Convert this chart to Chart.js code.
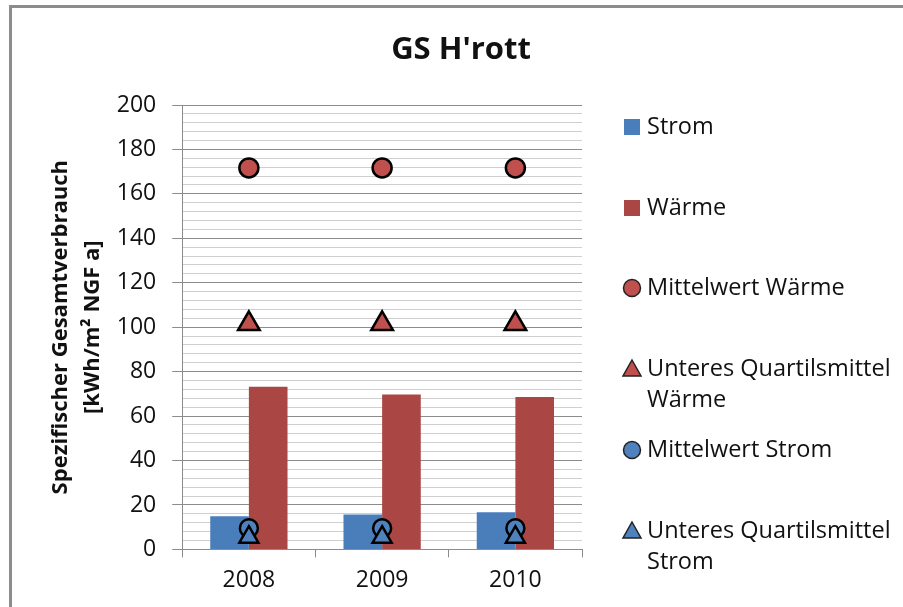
<!DOCTYPE html>
<html><head><meta charset="utf-8">
<script src="https://cdn.jsdelivr.net/npm/chart.js@4/dist/chart.umd.min.js"></script>
<style>
html,body{margin:0;padding:0;background:#fff;overflow:hidden}
canvas{display:block}
</style></head><body>
<canvas id="c" width="903" height="607"></canvas>
<script>
const chartTitle = "GS H'rott";
const categories = ['2008', '2009', '2010'];
const strom = [14.9, 15.7, 16.7];
const waerme = [73.2, 69.7, 68.6];
const mittelwertWaerme = [171.7, 171.7, 171.7];
const quartilWaerme = [101.5, 101.5, 101.5];
const mittelwertStrom = [9.5, 9.5, 9.5];
const quartilStrom = [5.5, 5.5, 5.5];
const yAxisTitle = ['Spezifischer Gesamtverbrauch', '[kWh/m² NGF a]'];
const yMin = 0, yMax = 200, yLabelStep = 20, yGridStep = 4;

const FONT = '"Open Sans", "Noto Sans", sans-serif';
const BLUE_BAR = '#4a7ebb', RED_BAR = '#aa4643';
const BLUE_PT = '#4f81bd', RED_PT = '#c0504d';

const datasets = [
  { type: 'bar', label: 'Strom', data: strom, backgroundColor: BLUE_BAR, order: 3 },
  { type: 'bar', label: 'Wärme', data: waerme, backgroundColor: RED_BAR, order: 3 },
  { type: 'line', label: 'Mittelwert Wärme', data: mittelwertWaerme, showLine: false,
    pointStyle: 'circle', pointRadius: 9.5, pointBackgroundColor: RED_PT, pointBorderColor: '#000', pointBorderWidth: 2.5, order: 1 },
  { type: 'line', label: 'Unteres Quartilsmittel\nWärme', data: quartilWaerme, showLine: false,
    pointStyle: 'triangle', pointRadius: 12.5, pointBackgroundColor: RED_PT, pointBorderColor: '#000', pointBorderWidth: 2.5, order: 1 },
  { type: 'line', label: 'Mittelwert Strom', data: mittelwertStrom, showLine: false,
    pointStyle: 'circle', pointRadius: 9, pointBackgroundColor: BLUE_PT, pointBorderColor: '#000', pointBorderWidth: 2.5, order: 2 },
  { type: 'line', label: 'Unteres Quartilsmittel\nStrom', data: quartilStrom, showLine: false,
    pointStyle: 'triangle', pointRadius: 11, pointBackgroundColor: BLUE_PT, pointBorderColor: '#000', pointBorderWidth: 2.5, order: 1 }
];

const deco = {
  id: 'deco',
  beforeDraw(chart) {
    const ctx = chart.ctx;
    ctx.save();
    ctx.fillStyle = '#8c8c8c';
    ctx.fillRect(9, 5, chart.width, 3);
    ctx.fillRect(9, 5, 3, chart.height);
    ctx.restore();
  },
  afterDraw(chart) {
    const ctx = chart.ctx;
    ctx.save();
    ctx.fillStyle = '#111';
    ctx.font = 'bold 31px ' + FONT;
    ctx.textAlign = 'center';
    ctx.textBaseline = 'middle';
    ctx.fillText(chartTitle, 461, 50);

    const rows = [127, 208, 288, 369, 450, 531];
    const mx = 632, tx = 647;
    ctx.font = '23.5px ' + FONT;
    ctx.textAlign = 'left';
    chart.data.datasets.forEach((ds, i) => {
      const y = rows[i];
      ctx.lineWidth = 1.5;
      if (ds.type === 'bar') {
        ctx.fillStyle = ds.backgroundColor;
        ctx.fillRect(mx - 8, y - 8, 16, 16);
      } else if (ds.pointStyle === 'circle') {
        ctx.beginPath();
        ctx.arc(mx, y, 8.5, 0, Math.PI * 2);
        ctx.fillStyle = ds.pointBackgroundColor; ctx.fill();
        ctx.strokeStyle = '#222'; ctx.stroke();
      } else {
        ctx.beginPath();
        ctx.moveTo(mx, y - 9); ctx.lineTo(mx + 9, y + 7); ctx.lineTo(mx - 9, y + 7); ctx.closePath();
        ctx.fillStyle = ds.pointBackgroundColor; ctx.fill();
        ctx.strokeStyle = '#222'; ctx.stroke();
      }
      ctx.fillStyle = '#111';
      ds.label.split('\n').forEach((line, k) => ctx.fillText(line, tx, y + k * 31));
    });
    ctx.restore();
  }
};

new Chart(document.getElementById('c'), {
  data: { labels: categories, datasets },
  plugins: [deco],
  options: {
    responsive: false,
    animation: false,
    layout: { padding: { left: 38, right: 321, top: 105, bottom: 4 } },
    plugins: { legend: { display: false }, title: { display: false }, tooltip: { enabled: false } },
    datasets: { bar: { categoryPercentage: 0.58, barPercentage: 1.0 } },
    scales: {
      x: {
        offset: true,
        grid: { display: true, offset: true, drawOnChartArea: false, drawTicks: true, tickLength: 8, color: '#8c8c8c', lineWidth: 1 },
        border: { display: true, color: '#8c8c8c', width: 1 },
        ticks: { color: '#111', font: { family: FONT, size: 23 }, padding: 9 }
      },
      y: {
        min: yMin, max: yMax,
        grid: {
          color: c => (c.tick && c.tick.value % yLabelStep === 0) ? '#8c8c8c' : '#cfcfcf',
          tickColor: c => (c.tick && c.tick.value % yLabelStep === 0) ? '#8c8c8c' : 'rgba(0,0,0,0)',
          tickLength: 10, lineWidth: 1
        },
        border: { display: true, color: '#8c8c8c', width: 1 },
        ticks: {
          stepSize: yGridStep, autoSkip: false, color: '#111', padding: 16,
          font: { family: FONT, size: 23 },
          callback: v => (v % yLabelStep === 0) ? String(v) : ''
        },
        title: { display: true, text: yAxisTitle, color: '#111', font: { family: FONT, size: 22, weight: 'bold', lineHeight: 1.45 }, padding: { top: 7, bottom: -8 } }
      }
    }
  }
});
</script>
</body></html>
